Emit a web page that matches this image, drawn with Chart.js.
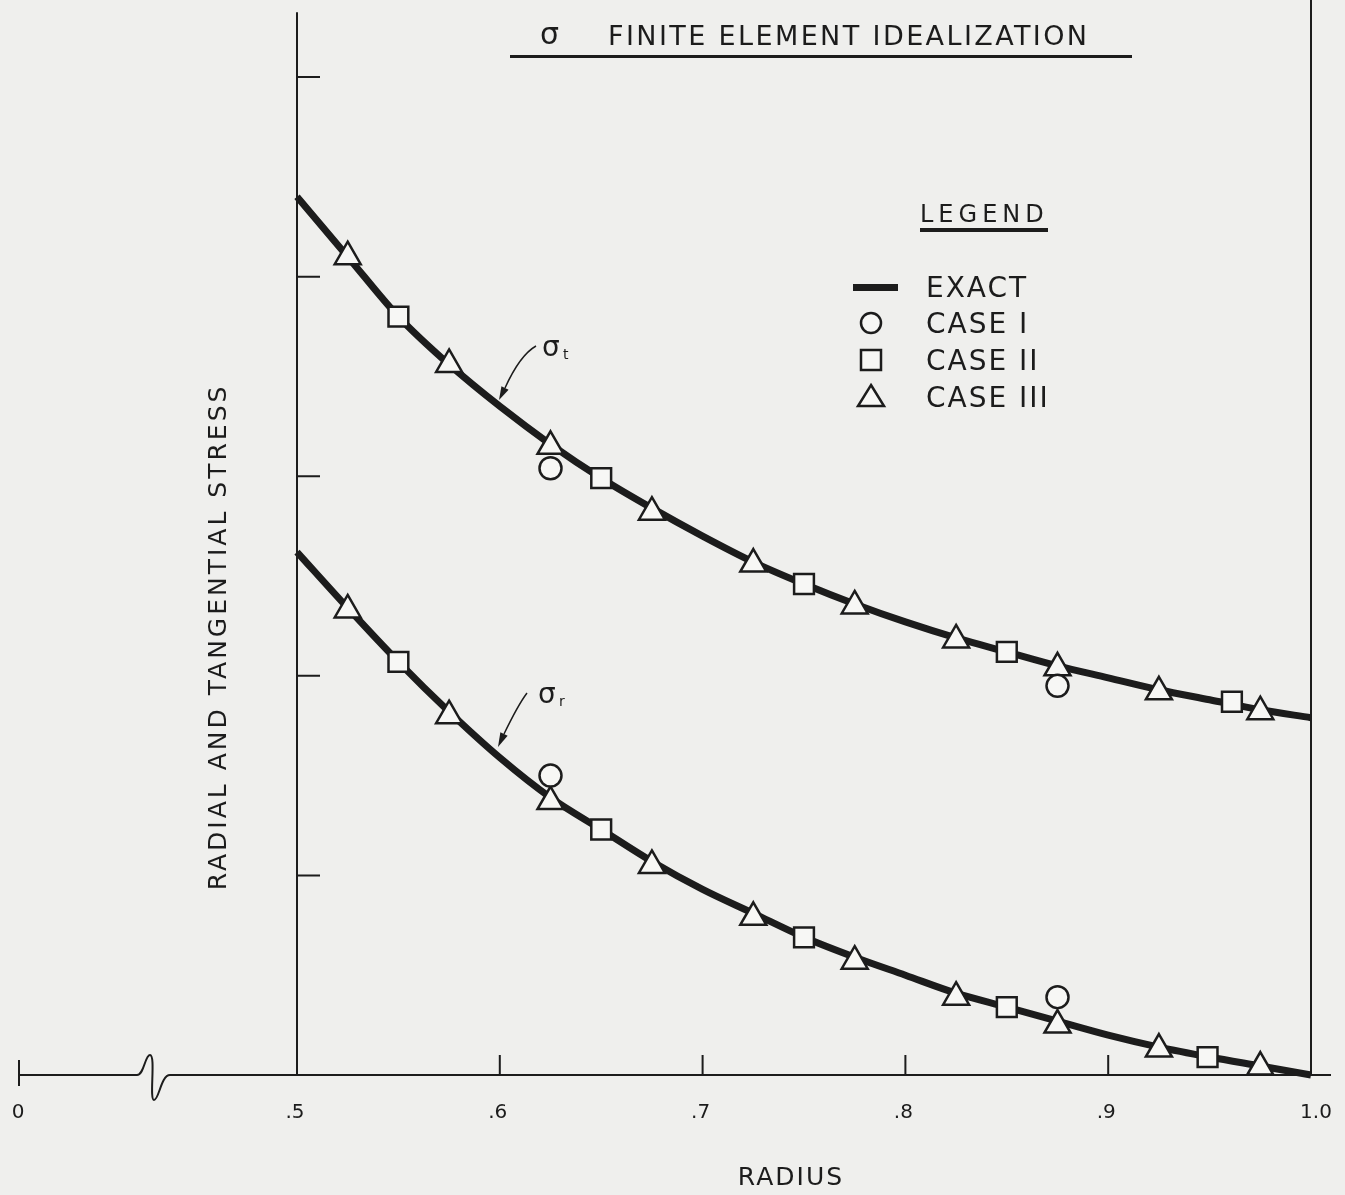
<!DOCTYPE html>
<html>
<head>
<meta charset="utf-8">
<script src="https://cdn.jsdelivr.net/npm/chart.js@4.4.1/dist/chart.umd.min.js"></script>
<style>
  html, body { margin: 0; padding: 0; background: #efefed; }
  #wrap { width: 1345px; height: 1195px; position: relative; }
</style>
</head>
<body>
<div id="wrap"><canvas id="chart"></canvas></div>
<script>
/* Radial / tangential stress vs radius — finite element idealization */

// ── Data ────────────────────────────────────────────────────────
const exactRadius = [0.5, 0.525, 0.55, 0.575, 0.6, 0.625, 0.65, 0.675, 0.7, 0.725, 0.75,
                     0.775, 0.8, 0.825, 0.85, 0.875, 0.9, 0.925, 0.95, 0.975, 1.0];
const exactSigmaT = [4.40, 4.10, 3.80, 3.56, 3.35, 3.16, 2.99, 2.84, 2.70, 2.57, 2.46,
                     2.36, 2.27, 2.19, 2.12, 2.05, 1.99, 1.93, 1.88, 1.83, 1.79];
const exactSigmaR = [2.62, 2.34, 2.07, 1.82, 1.59, 1.39, 1.23, 1.07, 0.93, 0.81, 0.69,
                     0.59, 0.50, 0.41, 0.34, 0.27, 0.20, 0.14, 0.09, 0.045, 0.0];

const case1Radius = [0.625, 0.875];
const case1SigmaT = [3.04, 1.95];
const case1SigmaR = [1.50, 0.39];

const case2RadiusT = [0.55, 0.65, 0.75, 0.85, 0.961];
const case2SigmaT  = [3.80, 2.99, 2.46, 2.12, 1.87];
const case2RadiusR = [0.55, 0.65, 0.75, 0.85, 0.949];
const case2SigmaR  = [2.07, 1.23, 0.69, 0.34, 0.09];

const case3Radius = [0.525, 0.575, 0.625, 0.675, 0.725, 0.775, 0.825, 0.875, 0.925, 0.975];
const case3SigmaT = [4.10, 3.56, 3.15, 2.82, 2.56, 2.35, 2.18, 2.04, 1.92, 1.82];
const case3SigmaR = [2.33, 1.80, 1.37, 1.05, 0.79, 0.57, 0.39, 0.25, 0.13, 0.04];

const xTickValues = [0.6, 0.7, 0.8, 0.9];
const xLabelValues = [0.5, 0.6, 0.7, 0.8, 0.9, 1.0];
const xLabels      = ['.5', '.6', '.7', '.8', '.9', '1.0'];
const yTickValues  = [1, 2, 3, 4, 5];

const legendLabels = ['EXACT', 'CASE I', 'CASE II', 'CASE III'];

// ── Style ───────────────────────────────────────────────────────
const INK   = '#1c1c1c';
const FILL  = '#f7f7f5';
const FONT  = '"DejaVu Sans", sans-serif';

const pts = (xs, ys) => xs.map((x, i) => ({ x, y: ys[i] }));

function lineSet(data) {
  return {
    data,
    showLine: true,
    borderColor: INK,
    borderWidth: 7,
    pointRadius: 0,
    cubicInterpolationMode: 'monotone',
    order: 5,
  };
}

function markerSet(data, style, radius) {
  return {
    data,
    showLine: false,
    pointStyle: style,
    pointRadius: radius,
    pointBorderWidth: 2.5,
    pointBorderColor: INK,
    pointBackgroundColor: FILL,
    order: 1,
  };
}

// ── Axes, labels, legend (drawn on top of the library scales) ────
const figurePlugin = {
  id: 'figure',
  beforeDatasetsDraw(chart) {
    const { ctx, scales: { x, y } } = chart;
    const y0 = y.getPixelForValue(0);
    ctx.save();
    ctx.strokeStyle = INK;
    ctx.lineCap = 'butt';

    // left axis + right frame
    ctx.lineWidth = 2;
    ctx.beginPath();
    ctx.moveTo(x.left, y.getPixelForValue(5.325));
    ctx.lineTo(x.left, y0);
    ctx.moveTo(x.right, 0);
    ctx.lineTo(x.right, y0);
    ctx.stroke();

    // bottom axis with break symbol
    ctx.beginPath();
    ctx.moveTo(18, y0);
    ctx.lineTo(137, y0);
    ctx.bezierCurveTo(144, y0, 145, y0 - 20, 150, y0 - 20);
    ctx.bezierCurveTo(156, y0 - 20, 149, y0 + 25, 154, y0 + 25);
    ctx.bezierCurveTo(159, y0 + 25, 161, y0, 170, y0);
    ctx.lineTo(x.right + 20, y0);
    ctx.stroke();
    ctx.beginPath();
    ctx.moveTo(19, y0 - 15);
    ctx.lineTo(19, y0 + 11);
    ctx.stroke();

    // inward ticks
    ctx.beginPath();
    yTickValues.forEach((v) => {
      const py = y.getPixelForValue(v);
      ctx.moveTo(x.left, py);
      ctx.lineTo(x.left + 23, py);
    });
    xTickValues.forEach((v) => {
      const px = x.getPixelForValue(v);
      ctx.moveTo(px, y0);
      ctx.lineTo(px, y0 - 20);
    });
    ctx.stroke();
    ctx.restore();
  },

  afterDatasetsDraw(chart) {
    const { ctx, scales: { x } } = chart;
    ctx.save();
    ctx.fillStyle = INK;
    ctx.strokeStyle = INK;

    // x tick labels
    ctx.font = `20px ${FONT}`;
    ctx.textAlign = 'center';
    ctx.textBaseline = 'middle';
    ctx.fillText('0', 18, 1113);
    xLabelValues.forEach((v, i) => {
      ctx.fillText(xLabels[i], x.getPixelForValue(v) + (i === xLabels.length - 1 ? 5 : -2), 1113);
    });

    // axis titles
    ctx.font = `25px ${FONT}`;
    ctx.letterSpacing = '2px';
    ctx.fillText('RADIUS', 791, 1178);
    ctx.save();
    ctx.translate(219, 637);
    ctx.rotate(-Math.PI / 2);
    ctx.letterSpacing = '3px';
    ctx.fillText('RADIAL AND TANGENTIAL STRESS', 0, 0);
    ctx.restore();

    // top title
    ctx.textAlign = 'left';
    ctx.textBaseline = 'alphabetic';
    ctx.letterSpacing = '0px';
    ctx.font = `30px ${FONT}`;
    ctx.fillText('σ', 540, 44);
    ctx.font = `27px ${FONT}`;
    ctx.letterSpacing = '2.4px';
    ctx.fillText('FINITE ELEMENT IDEALIZATION', 608, 45);
    ctx.fillRect(510, 55, 622, 3);

    // legend
    ctx.font = `24px ${FONT}`;
    ctx.letterSpacing = '5px';
    ctx.fillText('LEGEND', 920, 222);
    ctx.fillRect(920, 228, 128, 4);

    ctx.font = `28px ${FONT}`;
    ctx.letterSpacing = '2px';
    const rowY = [287, 323, 360, 397];
    legendLabels.forEach((t, i) => ctx.fillText(t, 926, rowY[i] + 10));
    ctx.letterSpacing = '0px';

    ctx.fillRect(853, rowY[0] - 3, 45, 7);
    ctx.lineWidth = 2.5;
    ctx.fillStyle = FILL;
    ctx.beginPath();
    ctx.arc(871, rowY[1], 10, 0, Math.PI * 2);
    ctx.fill(); ctx.stroke();
    ctx.beginPath();
    ctx.rect(861, rowY[2] - 10, 20, 20);
    ctx.fill(); ctx.stroke();
    ctx.beginPath();
    ctx.moveTo(871, rowY[3] - 12);
    ctx.lineTo(884, rowY[3] + 9);
    ctx.lineTo(858, rowY[3] + 9);
    ctx.closePath();
    ctx.fill(); ctx.stroke();

    // curve callouts
    ctx.fillStyle = INK;
    const callout = (label, sub, lx, ly, sx, sy, cx, cy, bx, by, tx, ty) => {
      ctx.font = `28px ${FONT}`;
      ctx.fillText(label, lx, ly);
      ctx.font = `14px ${FONT}`;
      ctx.fillText(sub, lx + 21, ly + 3);
      ctx.lineWidth = 1.5;
      ctx.beginPath();
      ctx.moveTo(sx, sy);
      ctx.quadraticCurveTo(cx, cy, bx, by);
      ctx.stroke();
      const ang = Math.atan2(ty - by, tx - bx);
      ctx.beginPath();
      ctx.moveTo(tx, ty);
      ctx.lineTo(bx + Math.cos(ang + Math.PI / 2) * 4, by + Math.sin(ang + Math.PI / 2) * 4);
      ctx.lineTo(bx + Math.cos(ang - Math.PI / 2) * 4, by + Math.sin(ang - Math.PI / 2) * 4);
      ctx.closePath();
      ctx.fill();
    };
    callout('σ', 't', 542, 356, 536, 346, 520, 355, 505, 388, 499, 400);
    callout('σ', 'r', 538, 703, 527, 693, 518, 705, 504, 734, 498, 747);

    ctx.restore();
  },
};

new Chart(document.getElementById('chart'), {
  type: 'scatter',
  data: {
    datasets: [
      lineSet(pts(exactRadius, exactSigmaT)),
      lineSet(pts(exactRadius, exactSigmaR)),
      markerSet(pts(case1Radius, case1SigmaT), 'circle', 11),
      markerSet(pts(case1Radius, case1SigmaR), 'circle', 11),
      markerSet(pts(case2RadiusT, case2SigmaT), 'rect', 14),
      markerSet(pts(case2RadiusR, case2SigmaR), 'rect', 14),
      markerSet(pts(case3Radius, case3SigmaT), 'triangle', 15),
      markerSet(pts(case3Radius, case3SigmaR), 'triangle', 15),
    ],
  },
  options: {
    responsive: true,
    maintainAspectRatio: false,
    animation: false,
    layout: { autoPadding: false, padding: { left: 297, right: 34, top: 0, bottom: 120 } },
    clip: false,
    plugins: {
      legend: { display: false },
      tooltip: { enabled: false },
    },
    events: [],
    scales: {
      x: { type: 'linear', min: 0.5, max: 1.0, display: false },
      y: { type: 'linear', min: 0, max: 5.386, display: false },
    },
  },
  plugins: [figurePlugin],
});
</script>
</body>
</html>
